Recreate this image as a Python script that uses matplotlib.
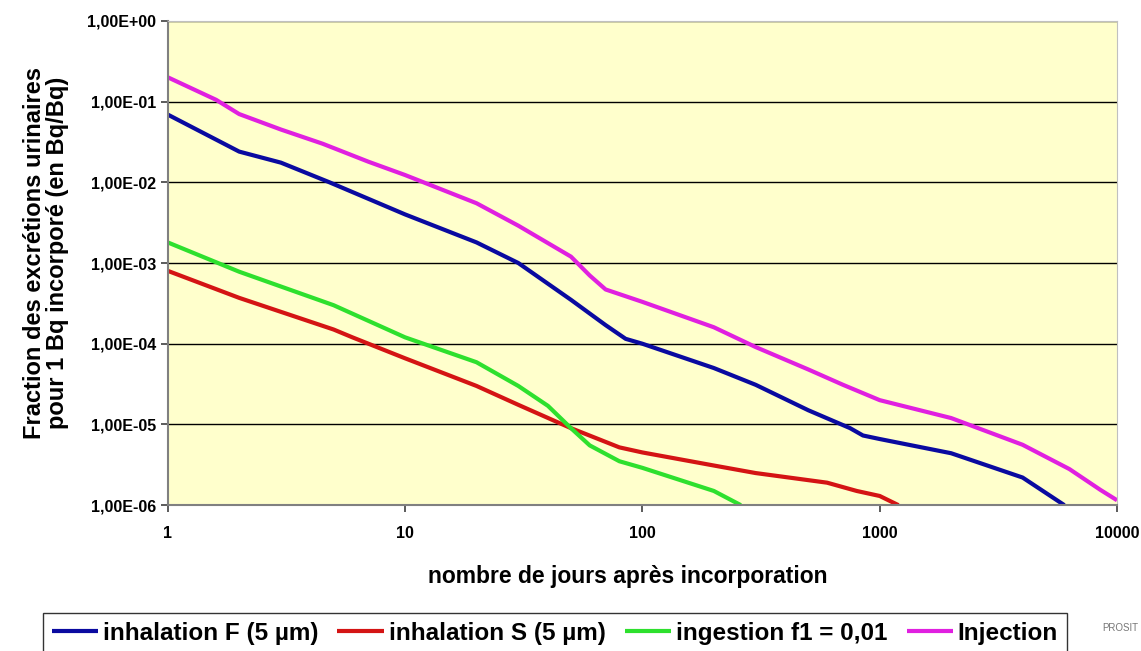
import matplotlib.pyplot as plt
from matplotlib.ticker import FixedLocator, FixedFormatter, NullLocator

plt.rcParams['font.family'] = ['Liberation Sans', 'DejaVu Sans']

# days after incorporation / urinary excretion fraction (Bq/Bq)
inj_x = [1, 1.6, 2, 3, 4.5, 7, 10, 20, 30, 50, 60, 70, 100, 200, 300, 500, 700, 1000, 2000, 4000, 6300, 8500, 10000]
inj_y = [0.2, 0.105, 0.07, 0.045, 0.03, 0.018, 0.0123, 0.0055, 0.0029, 0.0012, 7e-4, 4.7e-4, 3.3e-4, 1.6e-4, 9.1e-5, 4.8e-5, 3.1e-5, 2.0e-5, 1.2e-5, 5.6e-6, 2.8e-6, 1.55e-6, 1.15e-6]

inhF_x = [1, 2, 3, 4.8, 10, 20, 30, 50, 70, 85, 100, 200, 300, 500, 750, 850, 1000, 2000, 4000, 6000]
inhF_y = [0.069, 0.024, 0.0175, 0.0100, 0.0040, 0.0018, 0.00100, 3.5e-4, 1.7e-4, 1.15e-4, 1.0e-4, 5.0e-5, 3.1e-5, 1.5e-5, 9.0e-6, 7.3e-6, 6.6e-6, 4.4e-6, 2.2e-6, 1.0e-6]

inhS_x = [1, 2, 5, 6, 10, 20, 30, 50, 80, 100, 200, 300, 600, 800, 1000, 1200]
inhS_y = [8e-4, 3.7e-4, 1.5e-4, 1.2e-4, 6.6e-5, 3.0e-5, 1.75e-5, 9e-6, 5.2e-6, 4.5e-6, 3.1e-6, 2.5e-6, 1.9e-6, 1.5e-6, 1.3e-6, 1.0e-6]

ing_x = [1, 2, 5, 10, 20, 30, 40, 50, 60, 80, 100, 200, 260]
ing_y = [1.8e-3, 7.8e-4, 3.0e-4, 1.2e-4, 5.9e-5, 3.0e-5, 1.7e-5, 9e-6, 5.5e-6, 3.5e-6, 2.9e-6, 1.5e-6, 1.0e-6]

series = [
    ('inhalation F (5 µm)', inhF_x, inhF_y, '#0a0aa0'),
    ('inhalation S (5 µm)', inhS_x, inhS_y, '#d41414'),
    ('ingestion f1 = 0,01', ing_x, ing_y, '#2ee02e'),
    ('Injection', inj_x, inj_y, '#e020e0'),
]

y_ticks = [1e-6, 1e-5, 1e-4, 1e-3, 1e-2, 1e-1, 1]
y_labels = ['1,00E-06', '1,00E-05', '1,00E-04', '1,00E-03', '1,00E-02', '1,00E-01', '1,00E+00']
x_ticks = [1, 10, 100, 1000, 10000]
x_labels = ['1', '10', '100', '1000', '10000']

fig = plt.figure(figsize=(11.41, 6.51), dpi=100)
ax = fig.add_axes([0.147, 0.224, 0.832, 0.744])
ax.set_facecolor('#ffffcc')

for label, xs, ys, col in series:
    ax.plot(xs, ys, color=col, lw=3, label=label, solid_capstyle='butt')

ax.set_xscale('log')
ax.set_yscale('log')
ax.set_xlim(1, 10000)
ax.set_ylim(1e-6, 1)

ax.yaxis.set_major_locator(FixedLocator(y_ticks))
ax.yaxis.set_major_formatter(FixedFormatter(y_labels))
ax.yaxis.set_minor_locator(NullLocator())
ax.xaxis.set_major_locator(FixedLocator(x_ticks))
ax.xaxis.set_major_formatter(FixedFormatter(x_labels))
ax.xaxis.set_minor_locator(NullLocator())

ax.grid(True, axis='y', color='black', lw=1)
ax.set_axisbelow(True)
for s in ['left', 'bottom']:
    ax.spines[s].set_color('#808080')
    ax.spines[s].set_linewidth(1.5)
for s in ['top', 'right']:
    ax.spines[s].set_color('#c0c0c0')
    ax.spines[s].set_linewidth(0.8)

ax.tick_params(axis='both', direction='out', length=5, width=1.2, color='#404040',
               labelsize=11.5)
for t in ax.get_xticklabels() + ax.get_yticklabels():
    t.set_fontweight('bold')
ax.tick_params(axis='x', pad=10)

fig.text(628 / 1141, 1 - 576 / 651, 'nombre de jours après incorporation',
         fontsize=16.5, fontweight='bold', ha='center', va='center')
fig.text(46 / 1141, 1 - 253 / 651,
         'Fraction des excrétions urinaires\npour 1 Bq incorporé (en Bq/Bq)',
         fontsize=17, fontweight='bold', rotation=90, ha='center', va='center',
         multialignment='center', linespacing=1.05)

leg = fig.legend(loc='upper left', bbox_to_anchor=(43 / 1141, 1 - 613 / 651), ncol=4,
                 frameon=True, fancybox=False, edgecolor='black', handlelength=1.9,
                 handletextpad=0.2, columnspacing=0.8, borderpad=0.35, borderaxespad=0,
                 prop={'weight': 'bold', 'size': 17.5})
leg.get_frame().set_linewidth(1)
for h in leg.get_lines():
    h.set_linewidth(3)

fig.text(0.998, 0.035, 'PROSIT', fontsize=7, color='#777777', ha='right', va='center')

fig.savefig('out.png', dpi=100)
